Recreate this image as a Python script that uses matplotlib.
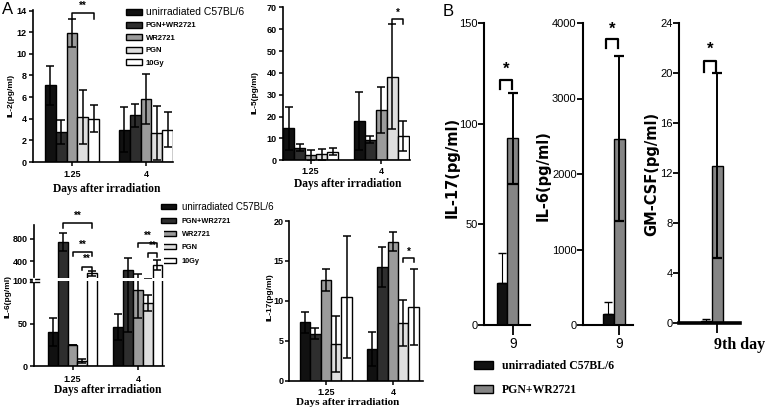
import matplotlib
matplotlib.use('Agg')
import matplotlib.pyplot as plt
from matplotlib.patches import Patch
from matplotlib.lines import Line2D
import matplotlib.transforms as mtransforms
import numpy as np

W, H = 765, 412
SANS = 'Liberation Sans'
NARROW = ['Liberation Sans Narrow', 'Liberation Sans']
SERIF = 'Liberation Serif'
BOLDSANS = 'DejaVu Sans'

# ---------------- data ----------------
groups_A = ['1.25', '4']
series_A = ['unirradiated C57BL/6', 'PGN+WR2721', 'WR2721', 'PGN', '10Gy']
colors_A = ['#111111', '#2e2e2e', '#9b9b9b', '#dedede', '#ffffff']

# rows = day groups, cols = series
il2_mean = np.array([[7.1, 2.8, 11.9, 4.2, 4.0], [3.0, 4.3, 5.8, 2.7, 3.0]])
il2_err = np.array([[1.8, 1.1, 1.3, 2.5, 1.25], [2.1, 1.1, 2.3, 2.5, 1.6]])

il5_mean = np.array([[14.7, 5.8, 2.2, 2.7, 4.0], [18.0, 9.5, 23.2, 38.2, 11.2]])
il5_err = np.array([[9.8, 1.7, 2.6, 2.4, 1.5], [13.3, 1.8, 10.5, 24.1, 7.0]])

il6_mean = np.array([[40, 740, 25, 6, 184], [46, 250, 90, 74, 330]])
il6_err_up = np.array([[17, 160, 0, 2, 45], [15, 210, 76, 9, 90]])
il6_err_lo = np.array([[17, 160, 0, 2, 45], [15, 210, 34, 9, 90]])

il17a_mean = np.array([[7.3, 5.9, 12.6, 4.6, 10.5], [4.0, 14.2, 17.4, 7.2, 9.2]])
il17a_err = np.array([[1.3, 0.7, 1.4, 3.5, 7.6], [2.1, 2.5, 1.2, 2.85, 4.75]])

series_B = ['unirradiated C57BL/6', 'PGN+WR2721']
colors_B = ['#111111', '#858585']
day_B = ['9', '9', '9th day']
il17b_mean = [21, 93]
il17b_err_up = [15, 22]
il17b_err_lo = [15, 23]
il6b_mean = [150, 2470]
il6b_err_up = [150, 1090]
il6b_err_lo = [150, 1090]
gm_mean = [0.15, 12.6]
gm_err_up = [0.15, 7.4]
gm_err_lo = [0.15, 7.4]

fig = plt.figure(figsize=(W / 100, H / 100), dpi=100)


def axpx(l, t, r, b):
    return fig.add_axes([l / W, 1 - b / H, (r - l) / W, (b - t) / H])


def style_A(ax, bottom=True, xpad=3.0, ypad=1.5):
    for s in ['top', 'right']:
        ax.spines[s].set_visible(False)
    ax.spines['left'].set_linewidth(1.2)
    ax.spines['bottom'].set_linewidth(1.2)
    if not bottom:
        ax.spines['bottom'].set_visible(False)
    ax.tick_params(axis='y', direction='out', length=2.8, width=1.1, pad=ypad,
                   labelsize=6.5)
    ax.tick_params(axis='x', direction='out', length=3, width=1.1, pad=xpad,
                   labelsize=6.5)
    for lab in ax.get_yticklabels() + ax.get_xticklabels():
        lab.set_fontfamily(SANS)
        lab.set_fontweight('bold')


def grouped(ax, mean, eup, elo, w):
    ng, ns = mean.shape
    for si in range(ns):
        x = np.arange(ng) + (si - (ns - 1) / 2) * w
        ax.bar(x, mean[:, si], w, color=colors_A[si], edgecolor='black',
               linewidth=1.0, zorder=2)
        ax.errorbar(x, mean[:, si], yerr=[elo[:, si], eup[:, si]], fmt='none',
                    ecolor='black', elinewidth=1.1, capsize=2.8, capthick=1.1,
                    zorder=3)


def bracket(ax, x1, x2, y, leg, text, ts=7, dy=0.0):
    ax.plot([x1, x1, x2, x2], [y - leg, y, y, y - leg], color='black', lw=1.1,
            clip_on=False, zorder=4)
    ax.text((x1 + x2) / 2, y + dy, text, ha='center', va='bottom', fontsize=ts,
            fontweight='bold', family=SANS, clip_on=False)


def set_labels(ax, ylab, yx, yy, xlab=None, xx=None, xy=None, ysize=6,
               yfam=SANS, xsize=8.3):
    ax.set_ylabel(ylab, fontsize=ysize, fontweight='bold', family=yfam,
                  va='center')
    ax.yaxis.set_label_coords(yx / W, 1 - yy / H, transform=fig.transFigure)
    if xlab:
        ax.set_xlabel(xlab, fontsize=xsize, fontweight='bold', family=SERIF,
                      va='center')
        ax.xaxis.set_label_coords(xx / W, 1 - xy / H, transform=fig.transFigure)


# ---------------- IL-2 ----------------
w2 = 0.146
ax = axpx(33, 9.5, 173, 162)
grouped(ax, il2_mean, il2_err, il2_err, w2)
ax.set_xlim(-0.527, 1.365)
ax.set_ylim(0, 14.1)
ax.set_yticks(range(0, 15, 2))
ax.set_xticks([0, 1])
ax.set_xticklabels(groups_A)
style_A(ax, xpad=3.0)
bracket(ax, 0 + 0 * w2, 0 + 2 * w2, 13.75, 0.5, '**', dy=0.25)
set_labels(ax, 'IL-2(pg/ml)', 11.5, 95, 'Days after irradiation', 107, 189)
leg = ax.legend(handles=[Patch(facecolor=c, edgecolor='black', linewidth=1)
                         for c in colors_A], labels=series_A,
                loc='upper left', bbox_to_anchor=(126 / W, 1 - 7 / H),
                bbox_transform=fig.transFigure, frameon=False, fontsize=5.5,
                handlelength=2.1, handleheight=0.85, labelspacing=0.62,
                handletextpad=0.5, borderpad=0, borderaxespad=0)
for i, t in enumerate(leg.get_texts()):
    t.set_family(SANS)
    if i == 0:
        t.set_fontsize(7.5)
    else:
        t.set_fontweight('bold')

# ---------------- IL-5 ----------------
w5 = 0.156
ax = axpx(283, 6.7, 410, 160.3)
grouped(ax, il5_mean, il5_err, il5_err, w5)
ax.set_xlim(-0.39, 1.41)
ax.set_ylim(0, 70.3)
ax.set_yticks(range(0, 71, 10))
ax.set_xticks([0, 1])
ax.set_xticklabels(groups_A)
style_A(ax, xpad=2.0)
bracket(ax, 1 + 1 * w5, 1 + 2 * w5, 64.8, 2.5, '*', dy=0.5)
set_labels(ax, 'IL-5(pg/ml)', 255, 92, 'Days after irradiation', 348, 184)

# ---------------- IL-6 (broken axis) ----------------
w6 = 0.15
axl = axpx(34, 281, 164, 366)
axu = axpx(34, 225, 164, 278)
for a in (axl, axu):
    grouped(a, il6_mean, il6_err_up, il6_err_lo, w6)
    a.set_xlim(-0.59, 1.40)
axl.set_ylim(0, 100)
axu.set_ylim(100, 1050)
axl.set_yticks([0, 50, 100])
axu.set_yticks([400, 800])
axl.set_xticks([0, 1])
axl.set_xticklabels(groups_A)
axu.set_xticks([])
style_A(axl, xpad=3.5)
style_A(axu, bottom=False)
bracket(axu, 0 - 1 * w6, 0 + 2 * w6, 1085, 90, '**', dy=40)
bracket(axu, 0 + 0 * w6, 0 + 2 * w6, 560, 70, '**', dy=40)
bracket(axu, 0 + 1 * w6, 0 + 2 * w6, 305, 60, '**', dy=40)
bracket(axu, 1 + 0 * w6, 1 + 2 * w6, 722, 60, '**', dy=40)
bracket(axu, 1 + 1 * w6, 1 + 2 * w6, 543, 70, '**', dy=40)
set_labels(axl, 'IL-6(pg/ml)', 8.5, 297, 'Days after irradiation', 108, 390)
for yy in (278.5, 281.5):
    fig.add_artist(Line2D([30 / W, 38.5 / W], [1 - yy / H, 1 - yy / H],
                          color='black', lw=1.0))
fig.add_artist(Line2D([34 / W, 34 / W], [1 - 278.8 / H, 1 - 281.2 / H],
                      color='white', lw=1.6))
leg = axl.legend(handles=[Patch(facecolor=c, edgecolor='black', linewidth=1)
                          for c in colors_A], labels=series_A,
                 loc='upper left', bbox_to_anchor=(161 / W, 1 - 201.5 / H),
                 bbox_transform=fig.transFigure, frameon=False, fontsize=5.3,
                 handlelength=2.0, handleheight=0.65, labelspacing=0.85,
                 handletextpad=0.8, borderpad=0, borderaxespad=0)
for i, t in enumerate(leg.get_texts()):
    t.set_family(SANS)
    if i == 0:
        t.set_fontsize(7)
    else:
        t.set_fontweight('bold')

# ---------------- IL-17 (A) ----------------
w17 = 0.155
ax = axpx(289, 221, 423, 380.7)
grouped(ax, il17a_mean, il17a_err, il17a_err, w17)
ax.set_xlim(-0.55, 1.45)
ax.set_ylim(0, 20)
ax.set_yticks(range(0, 21, 5))
ax.set_xticks([0, 1])
ax.set_xticklabels(groups_A)
style_A(ax, xpad=2.2, ypad=1.0)
bracket(ax, 1 + 1 * w17, 1 + 2 * w17, 15.4, 0.5, '*', dy=0.15)
set_labels(ax, 'IL-17(pg/ml)', 269.5, 297, 'Days after irradiation', 348, 402.5,
           xsize=8.0)

# ---------------- Panel B ----------------
def panel_B(box, mean, eup, elo, xlim, ylim, yticks, ylab, lx, ly, xlab,
            br_y, br_leg, bottom_lw=1.5):
    ax = axpx(*box)
    x = np.arange(2)
    ax.bar(x, mean, 1.0, color=colors_B, edgecolor='black', linewidth=1.0,
           zorder=2)
    ax.errorbar(x[:1], mean[:1], yerr=[[0], eup[:1]], fmt='none',
                ecolor='black', elinewidth=0.8, capsize=3, capthick=1.0,
                zorder=3)
    ax.errorbar(x[1:], mean[1:], yerr=[elo[1:], eup[1:]], fmt='none',
                ecolor='black', elinewidth=1.4, capsize=3.5, capthick=1.6,
                zorder=3)
    ax.set_xlim(*xlim)
    ax.set_ylim(*ylim)
    ax.set_yticks(yticks)
    ax.set_xticks([1])
    ax.set_xticklabels([xlab])
    for s in ['top', 'right']:
        ax.spines[s].set_visible(False)
    ax.spines['left'].set_linewidth(1.5)
    ax.spines['bottom'].set_linewidth(bottom_lw)
    ax.tick_params(axis='y', direction='out', length=4, width=1.3, pad=0.6,
                   labelsize=8)
    ax.tick_params(axis='x', direction='out', length=7, width=1.3, pad=1.5,
                   labelsize=10)
    for lab in ax.get_yticklabels() + ax.get_xticklabels():
        lab.set_fontfamily(SANS)
    ax.set_ylabel(ylab, fontsize=10.5, fontweight='bold', family=BOLDSANS,
                  va='center')
    ax.yaxis.set_label_coords(lx / W, 1 - ly / H, transform=fig.transFigure)
    ax.plot([-0.2, -0.2, 0.9, 0.9], [br_y - br_leg, br_y, br_y, br_y - br_leg],
            color='black', lw=1.6, clip_on=False, zorder=4)
    ax.text(0.35, br_y + br_leg * 0.3, '*', ha='center', va='bottom',
            fontsize=12, fontweight='bold', family=SANS, clip_on=False)
    return ax


panel_B((484, 23, 530, 325), il17b_mean, il17b_err_up, il17b_err_lo,
        (-1.64, 2.55), (0, 150), [0, 50, 100, 150], 'IL-17(pg/ml)', 452, 167,
        day_B[0], 121.7, 4.5)
panel_B((583, 23, 633, 325), il6b_mean, il6b_err_up, il6b_err_lo,
        (-2.32, 2.23), (0, 4000), [0, 1000, 2000, 3000, 4000], 'IL-6(pg/ml)',
        543, 176, day_B[1], 3784, 120)
axg = panel_B((679, 23, 740, 323), gm_mean, gm_err_up, gm_err_lo,
              (-2.5, 3.05), (0, 24), [0, 4, 8, 12, 16, 20, 24], 'GM-CSF(pg/ml)',
              652, 174, day_B[2], 21.0, 0.9, bottom_lw=2.6)
for lab in axg.get_xticklabels():
    lab.set_fontfamily(SERIF)
    lab.set_fontweight('bold')
    lab.set_fontsize(11.5)
    lab.set_ha('left')
    lab.set_transform(lab.get_transform() +
                      mtransforms.ScaledTranslation(-0.035, -0.02,
                                                    fig.dpi_scale_trans))

legB = fig.legend(handles=[Patch(facecolor=c, edgecolor='black', linewidth=1)
                           for c in colors_B], labels=series_B,
                  loc='upper left', bbox_to_anchor=(474 / W, 1 - 360 / H),
                  frameon=False, prop={'family': SERIF, 'weight': 'bold',
                                       'size': 8.5},
                  handlelength=1.6, handleheight=0.6, labelspacing=1.05,
                  handletextpad=0.8, borderpad=0, borderaxespad=0)

fig.text(2 / W, 1 - 2 / H, 'A', fontsize=12, family=SANS, va='top', ha='left')
fig.text(443 / W, 1 - 4 / H, 'B', fontsize=12, family=SANS, va='top',
         ha='left')

fig.savefig('out.png', dpi=100)
